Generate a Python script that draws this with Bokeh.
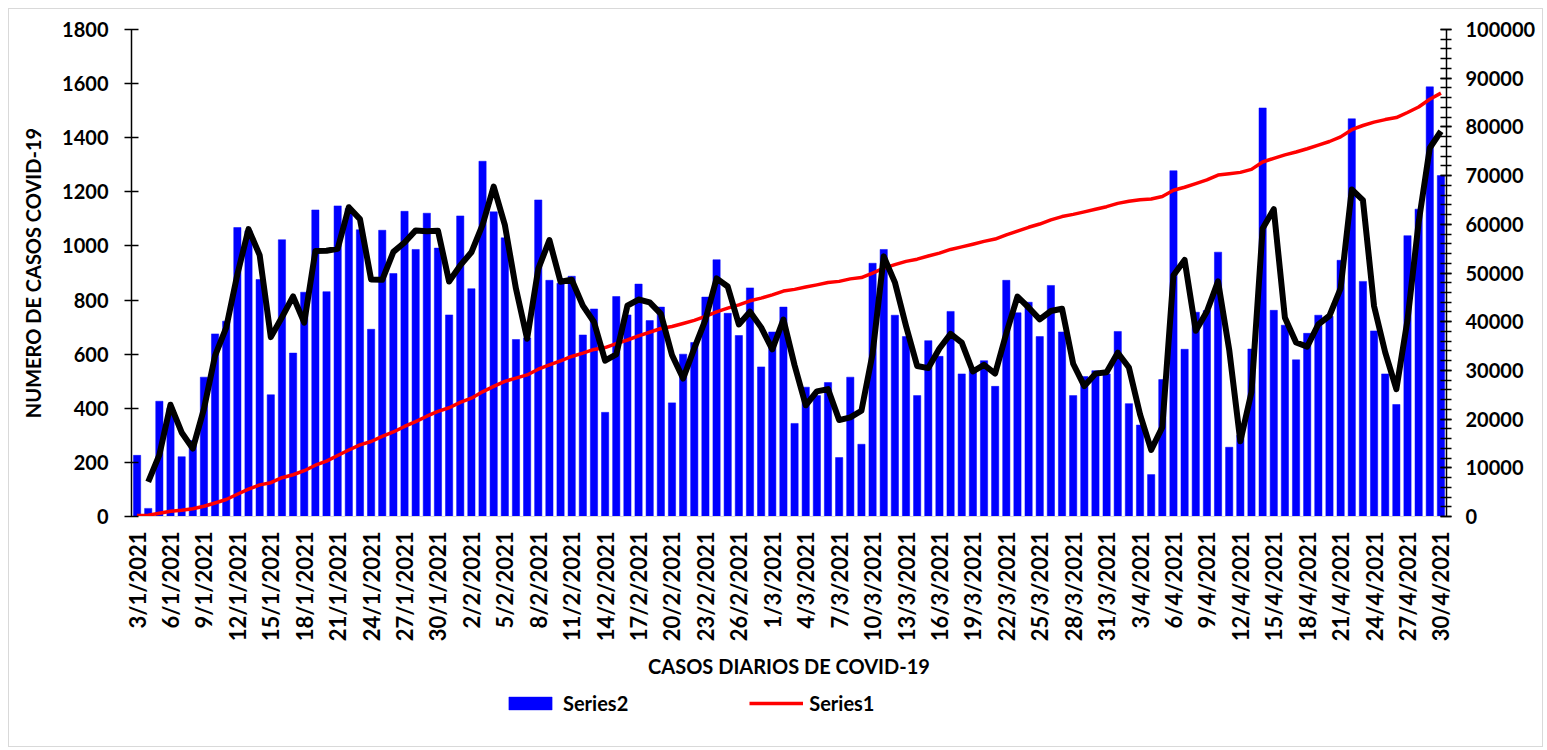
import numpy as np
from bokeh.plotting import figure
from bokeh.layouts import column
from bokeh.models import (Range1d, LinearAxis, FixedTicker, SingleIntervalTicker,
                          ColumnDataSource, Legend, LegendItem, BasicTickFormatter)
from bokeh.embed import file_html
from bokeh.resources import INLINE

# Daily COVID-19 cases, 3/1/2021 .. 30/4/2021
daily_cases = [
    226, 30, 426, 400, 221, 281, 515, 675, 722, 1068,
    1056, 876, 450, 1023, 604, 829, 1133, 831, 1148, 1138,
    1060, 692, 1058, 898, 1128, 987, 1121, 992, 745, 1111,
    842, 1313, 1126, 1030, 654, 660, 1170, 873, 862, 888,
    671, 767, 385, 813, 745, 859, 724, 774, 420, 600,
    643, 811, 949, 751, 669, 845, 553, 682, 774, 344,
    478, 447, 495, 218, 515, 267, 936, 987, 744, 665,
    447, 650, 592, 758, 527, 545, 576, 481, 873, 753,
    792, 665, 854, 682, 447, 517, 539, 527, 684, 417,
    338, 155, 506, 1278, 618, 755, 761, 977, 256, 300,
    619, 1510, 762, 707, 579, 677, 744, 740, 947, 1470,
    869, 686, 527, 414, 1038, 1136, 1588, 1260,
]

# Date labels shown on the x axis (every third day)
tick_labels = [
    "3/1/2021", "6/1/2021", "9/1/2021", "12/1/2021", "15/1/2021", "18/1/2021",
    "21/1/2021", "24/1/2021", "27/1/2021", "30/1/2021",
    "2/2/2021", "5/2/2021", "8/2/2021", "11/2/2021", "14/2/2021", "17/2/2021",
    "20/2/2021", "23/2/2021", "26/2/2021",
    "1/3/2021", "4/3/2021", "7/3/2021", "10/3/2021", "13/3/2021", "16/3/2021",
    "19/3/2021", "22/3/2021", "25/3/2021", "28/3/2021", "31/3/2021",
    "3/4/2021", "6/4/2021", "9/4/2021", "12/4/2021", "15/4/2021", "18/4/2021",
    "21/4/2021", "24/4/2021", "27/4/2021", "30/4/2021",
]
tick_step = 3

bar_label = "Series2"
cum_label = "Series1"
x_title = "CASOS DIARIOS DE COVID-19"
y_title = "NUMERO DE CASOS COVID-19"

n = len(daily_cases)
xs = list(range(n))
# Series1: cumulative cases (right axis); trendline: 2-period moving average
cumulative = np.cumsum(daily_cases).tolist()
ma_x = xs[1:]
ma_y = [(daily_cases[i - 1] + daily_cases[i]) / 2 for i in range(1, n)]

FONT = "Lato"
BAR_COLOR = "#0000FF"
CUM_COLOR = "#FF0000"

W = 1533
H_MAIN = 672
H_LEG = 65

p = figure(width=W, height=H_MAIN, output_backend="svg", toolbar_location=None,
           x_range=Range1d(-0.5, n - 0.5), y_range=Range1d(0, 1800),
           min_border_left=122, min_border_right=96, min_border_top=20,
           min_border_bottom=H_MAIN - 513)
p.extra_y_ranges = {"cum": Range1d(0, 100000)}
p.outline_line_color = None
p.xgrid.grid_line_color = None
p.ygrid.grid_line_color = None
p.background_fill_color = "white"
p.border_fill_color = "white"

bars_src = ColumnDataSource(dict(x=xs, y=daily_cases))
p.vbar(x="x", top="y", width=0.65, source=bars_src,
       fill_color=BAR_COLOR, line_color=BAR_COLOR, line_width=0.5)

cum_src = ColumnDataSource(dict(x=xs, y=cumulative))
p.line(x="x", y="y", source=cum_src, y_range_name="cum",
       line_color=CUM_COLOR, line_width=3.5, line_join="round")

ma_src = ColumnDataSource(dict(x=ma_x, y=ma_y))
p.line(x="x", y="y", source=ma_src, line_color="black", line_width=6,
       line_join="round")

# X axis
xa = p.xaxis[0]
xa.ticker = FixedTicker(ticks=list(range(0, n, tick_step)))
xa.major_label_overrides = {i * tick_step: lab for i, lab in enumerate(tick_labels)}
xa.major_label_orientation = np.pi / 2
xa.major_tick_line_color = None
xa.minor_tick_line_color = None
xa.axis_line_color = "#D9D9D9"
xa.major_label_standoff = 9
xa.major_label_text_font = FONT
xa.major_label_text_font_style = "bold"
xa.major_label_text_font_size = "22px"
xa.major_label_text_color = "black"
xa.axis_label = x_title
xa.axis_label_text_font = FONT
xa.axis_label_text_font_style = "bold"
xa.axis_label_text_font_size = "20px"
xa.axis_label_text_color = "black"
xa.axis_label_standoff = 10

# Left axis
ya = p.yaxis[0]
ya.ticker = SingleIntervalTicker(interval=200, num_minor_ticks=0)
ya.axis_line_color = "black"
ya.axis_line_width = 1.5
ya.major_tick_line_color = "black"
ya.major_tick_line_width = 1.5
ya.major_tick_in = 7
ya.major_tick_out = 7
ya.minor_tick_line_color = None
ya.major_label_standoff = 16
ya.major_label_text_font = FONT
ya.major_label_text_font_style = "bold"
ya.major_label_text_font_size = "20px"
ya.major_label_text_color = "black"
ya.axis_label = y_title
ya.axis_label_text_font = FONT
ya.axis_label_text_font_style = "bold"
ya.axis_label_text_font_size = "20px"
ya.axis_label_text_color = "black"
ya.axis_label_standoff = 14

# Right axis
ra = LinearAxis(y_range_name="cum",
                ticker=SingleIntervalTicker(interval=10000, num_minor_ticks=5),
                formatter=BasicTickFormatter(use_scientific=False))
ra.axis_line_color = "black"
ra.axis_line_width = 1.5
ra.major_tick_line_color = "black"
ra.major_tick_line_width = 1.5
ra.major_tick_in = 6
ra.major_tick_out = 5
ra.minor_tick_line_color = "black"
ra.minor_tick_line_width = 1.5
ra.minor_tick_in = 6
ra.minor_tick_out = 5
ra.major_label_standoff = 14
ra.major_label_text_font = FONT
ra.major_label_text_font_style = "bold"
ra.major_label_text_font_size = "20px"
ra.major_label_text_color = "black"
p.add_layout(ra, "right")

# Legend strip below the chart (swatch renderers sit outside the visible range)
leg = figure(width=W, height=H_LEG, output_backend="svg", toolbar_location=None,
             x_range=Range1d(0, 1), y_range=Range1d(0, 1),
             x_axis_location=None, y_axis_location=None,
             min_border_left=0, min_border_right=0, min_border_top=0,
             min_border_bottom=0)
leg.xgrid.grid_line_color = None
leg.ygrid.grid_line_color = None
leg.outline_line_color = None
leg.background_fill_color = "white"
leg.border_fill_color = "white"
r_bar = leg.vbar(x=[-5], top=[-5], width=0.65, fill_color=BAR_COLOR,
                 line_color=BAR_COLOR, line_width=0.5)
r_cum = leg.line(x=[-5, -4], y=[-5, -5], line_color=CUM_COLOR, line_width=3.5)

legend = Legend(items=[LegendItem(label=bar_label, renderers=[r_bar]),
                       LegendItem(label=cum_label, renderers=[r_cum])],
                orientation="horizontal", location=(372, 31),
                glyph_width=54, glyph_height=16, label_standoff=6, spacing=121,
                padding=0, margin=0, border_line_color=None,
                background_fill_alpha=0,
                label_text_font=FONT, label_text_font_style="bold",
                label_text_font_size="20px", label_text_color="black")
leg.add_layout(legend)

layout = column(p, leg, spacing=0, margin=(8, 0, 0, 8),
                styles={"border": "1px solid #D9D9D9"})

open("out.html", "w").write(file_html(layout, INLINE))
